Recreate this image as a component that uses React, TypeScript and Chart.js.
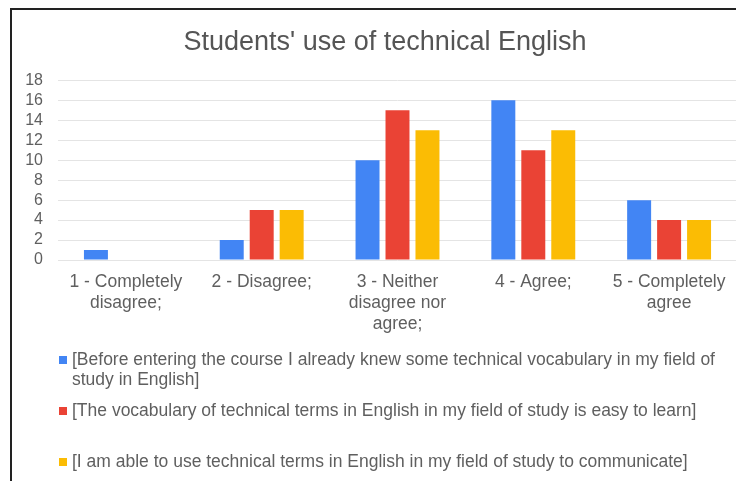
import React, { useEffect, useRef } from 'react';
import { Chart, registerables } from 'chart.js';

Chart.register(...registerables);

const chartTitle = "Students' use of technical English";
const categories: string[][] = [
  ['1 - Completely', 'disagree;'],
  ['2 - Disagree;'],
  ['3 - Neither', 'disagree nor', 'agree;'],
  ['4 - Agree;'],
  ['5 - Completely', 'agree'],
];
const seriesNames = [
  '[Before entering the course I already knew some technical vocabulary in my field of study in English]',
  '[The vocabulary of technical terms in English in my field of study is easy to learn]',
  '[I am able to use technical terms in English in my field of study to communicate]',
];
const beforeCourse = [1, 2, 10, 16, 6];
const easyToLearn = [0, 5, 15, 11, 4];
const ableToUse = [0, 5, 13, 13, 4];
const seriesColors = ['#4285F4', '#EA4335', '#FBBC04'];
const yMin = 0;
const yMax = 18;
const yStep = 2;

const FONT = '"Liberation Sans", Arial, Helvetica, sans-serif';
const TEXT = '#5f5f5f';

const wrapLegend = {
  id: 'wrapLegend',
  afterLayout(chart: any) {
    // shift the title's box so it is centred like in the reference
    if (chart.titleBlock) chart.titleBlock.left = 21;
  },
  afterDraw(chart: any) {
    const { ctx, chartArea } = chart;
    ctx.save();
    ctx.font = `17.5px ${FONT}`;
    ctx.textAlign = 'left';
    ctx.textBaseline = 'alphabetic';
    const markerX = chartArea.left + 1;
    const textX = chartArea.left + 14;
    const maxW = chartArea.right + 4 - textX;
    let base = chartArea.bottom + 105;
    chart.data.datasets.forEach((ds: any) => {
      const words = String(ds.label).split(' ');
      const lines: string[] = [];
      let cur = '';
      words.forEach((w) => {
        const test = cur ? cur + ' ' + w : w;
        if (ctx.measureText(test).width > maxW && cur) {
          lines.push(cur);
          cur = w;
        } else cur = test;
      });
      if (cur) lines.push(cur);
      ctx.fillStyle = ds.backgroundColor;
      ctx.fillRect(markerX, base - 9, 8, 8);
      ctx.fillStyle = TEXT;
      lines.forEach((ln, j) => ctx.fillText(ln, textX, base + j * 20));
      base += 51;
    });
    ctx.restore();
  },
};

export default function App() {
  const ref = useRef<HTMLCanvasElement>(null);
  useEffect(() => {
    if (!ref.current) return;
    const chart = new Chart(ref.current, {
      type: 'bar',
      data: {
        labels: categories,
        datasets: [beforeCourse, easyToLearn, ableToUse].map((d, i) => ({
          label: seriesNames[i],
          data: d,
          backgroundColor: seriesColors[i],
          borderWidth: 0,
          categoryPercentage: 0.662,
          barPercentage: 0.8,
        })),
      },
      options: {
        animation: false,
        responsive: true,
        maintainAspectRatio: false,
        layout: { padding: { left: 0, right: 7, top: 0, bottom: 141 } },
        plugins: {
          legend: { display: false },
          tooltip: { enabled: false },
          title: {
            display: true,
            text: chartTitle,
            color: '#555555',
            font: { family: FONT, size: 27, weight: 'normal' },
            padding: { top: 16, bottom: 22 },
          },
        },
        scales: {
          x: {
            grid: { display: false, drawTicks: false },
            border: { display: false },
            ticks: {
              color: TEXT,
              font: { family: FONT, size: 17.5 },
              padding: 12,
              maxRotation: 0,
              autoSkip: false,
            },
            afterFit(scale: any) {
              scale.height = 80;
            },
          },
          y: {
            min: yMin,
            max: yMax,
            grid: { color: '#e4e4e4', drawTicks: false, lineWidth: 1 },
            border: { display: false },
            ticks: {
              stepSize: yStep,
              autoSkip: false,
              color: TEXT,
              font: { family: FONT, size: 16 },
              padding: 15,
            },
            afterFit(scale: any) {
              scale.width = 46;
            },
          },
        },
      },
      plugins: [wrapLegend],
    });
    return () => chart.destroy();
  }, []);

  return (
    <div
      style={{
        marginLeft: 2,
        width: 734,
        height: 473,
        boxSizing: 'border-box',
        borderTop: '2px solid #222',
        borderLeft: '2px solid #222',
        background: '#fff',
      }}
    >
      <div style={{ position: 'relative', width: 732, height: 471 }}>
        <canvas ref={ref} />
      </div>
    </div>
  );
}
